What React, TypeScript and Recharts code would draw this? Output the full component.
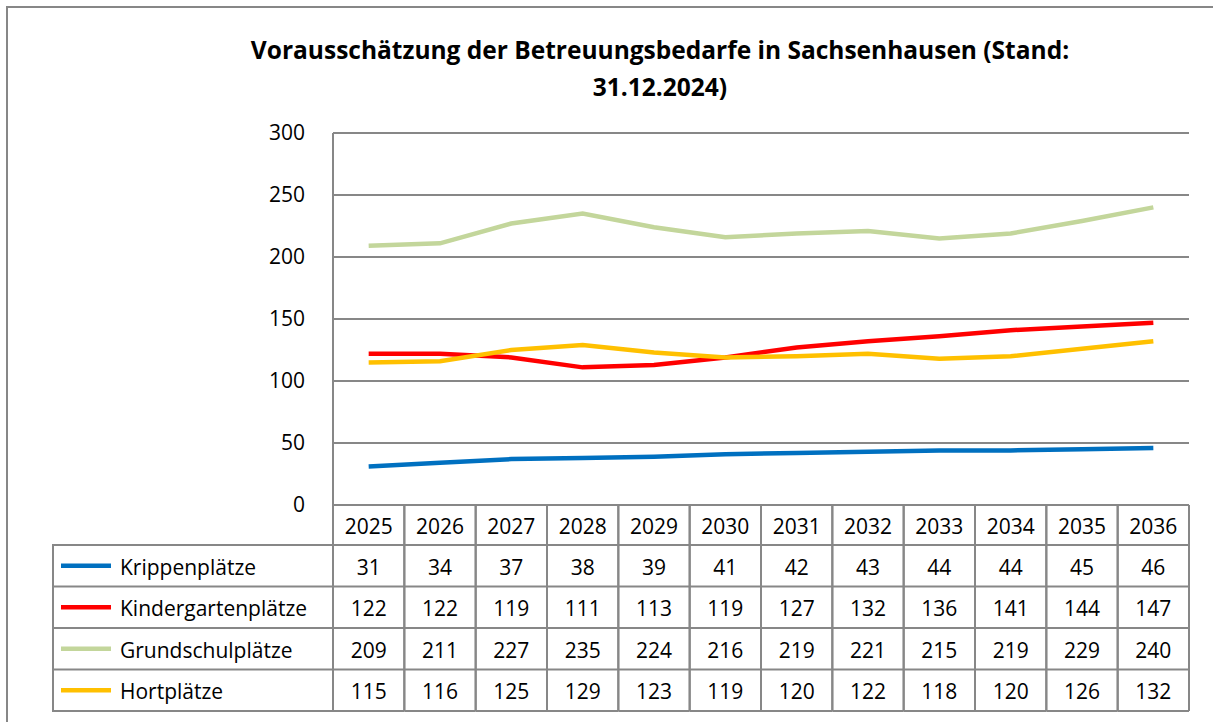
import React from 'react';
import { LineChart, Line, XAxis, YAxis, CartesianGrid } from 'recharts';

const years = ['2025', '2026', '2027', '2028', '2029', '2030', '2031', '2032', '2033', '2034', '2035', '2036'];
const krippenplaetze = [31, 34, 37, 38, 39, 41, 42, 43, 44, 44, 45, 46];
const kindergartenplaetze = [122, 122, 119, 111, 113, 119, 127, 132, 136, 141, 144, 147];
const grundschulplaetze = [209, 211, 227, 235, 224, 216, 219, 221, 215, 219, 229, 240];
const hortplaetze = [115, 116, 125, 129, 123, 119, 120, 122, 118, 120, 126, 132];
const seriesNames = ['Krippenplätze', 'Kindergartenplätze', 'Grundschulplätze', 'Hortplätze'];
const yTicks = [0, 50, 100, 150, 200, 250, 300];
const title1 = 'Vorausschätzung der Betreuungsbedarfe in Sachsenhausen (Stand:';
const title2 = '31.12.2024)';

const seriesValues = [krippenplaetze, kindergartenplaetze, grundschulplaetze, hortplaetze];
const seriesKeys = ['k', 'kg', 'g', 'h'];
const seriesColors = ['#0070C0', '#FF0000', '#C3D69B', '#FFC000'];

const data = years.map((y, i) => {
  const row: any = { year: y };
  seriesKeys.forEach((k, s) => { row[k] = seriesValues[s][i]; });
  return row;
});

const W = 1213;
const H = 722;
const FONT = '"Open Sans", Lato, sans-serif';
const FS = 21;
const GRID = '#878787';
const MARGIN = { top: 133, right: 24, left: 273, bottom: 10 };
const YW = 60;
const XH = 207;
const PLOT_W = W - MARGIN.left - YW - MARGIN.right;
const HEADER_H = 40;
const ROW_H = 41.5;
const LABEL_LEFT = 53;

function TableTick(props: any) {
  const { x, y, index, payload } = props;
  const bw = PLOT_W / years.length;
  const left = x - bw / 2;
  const right = x + bw / 2;
  const bottom = y + HEADER_H + ROW_H * seriesNames.length;
  const els: any[] = [];
  els.push(<line key="vl" x1={left} x2={left} y1={y} y2={bottom} stroke={GRID} strokeWidth={2} />);
  els.push(<line key="vr" x1={right} x2={right} y1={y} y2={bottom} stroke={GRID} strokeWidth={2} />);
  els.push(
    <text key="yr" x={x} y={y + HEADER_H / 2 + 1} textAnchor="middle" dominantBaseline="central" fontSize={FS} fill="#000" fontFamily={FONT}>
      {payload.value}
    </text>
  );
  seriesNames.forEach((name, s) => {
    const top = y + HEADER_H + ROW_H * s;
    els.push(<line key={'h' + s} x1={left} x2={right} y1={top} y2={top} stroke={GRID} strokeWidth={2} />);
    els.push(
      <text key={'v' + s} x={x} y={top + ROW_H / 2 + 1} textAnchor="middle" dominantBaseline="central" fontSize={FS} fill="#000" fontFamily={FONT}>
        {seriesValues[s][index]}
      </text>
    );
    if (index === 0) {
      els.push(<line key={'lh' + s} x1={LABEL_LEFT} x2={left} y1={top} y2={top} stroke={GRID} strokeWidth={2} />);
      els.push(<line key={'ll' + s} x1={LABEL_LEFT + 8} x2={LABEL_LEFT + 58} y1={top + ROW_H / 2} y2={top + ROW_H / 2} stroke={seriesColors[s]} strokeWidth={4.5} />);
      els.push(
        <text key={'ln' + s} x={LABEL_LEFT + 67} y={top + ROW_H / 2 + 1} textAnchor="start" dominantBaseline="central" fontSize={FS} fill="#000" fontFamily={FONT}>
          {name}
        </text>
      );
    }
  });
  els.push(<line key="hb" x1={left} x2={right} y1={bottom} y2={bottom} stroke={GRID} strokeWidth={2} />);
  if (index === 0) {
    els.push(<line key="lb" x1={LABEL_LEFT} x2={left} y1={bottom} y2={bottom} stroke={GRID} strokeWidth={2} />);
    els.push(<line key="lv" x1={LABEL_LEFT} x2={LABEL_LEFT} y1={y + HEADER_H - 1} y2={bottom + 1} stroke={GRID} strokeWidth={2} />);
  }
  return <g>{els}</g>;
}

export default function App() {
  return (
    <div style={{ position: 'absolute', left: 0, top: 0, width: W, height: H, overflow: 'hidden', background: '#fff' }}>
      <style>{'body{margin:0;overflow:hidden;}'}</style>
      <div style={{ position: 'absolute', left: 6, top: 6, width: W + 20, height: H + 20, border: `2px solid ${GRID}`, boxSizing: 'border-box' }} />
      <div
        style={{
          position: 'absolute', left: 110, top: 31, width: 1100, textAlign: 'center',
          fontFamily: FONT, fontWeight: 700, fontSize: 24.5, lineHeight: '37px', color: '#000',
        }}
      >
        <div>{title1}</div>
        <div>{title2}</div>
      </div>
      <div style={{ position: 'absolute', left: 0, top: 0 }}>
        <LineChart width={W} height={H} data={data} margin={MARGIN}>
          <CartesianGrid horizontal={true} vertical={false} stroke={GRID} strokeWidth={2} />
          <XAxis
            dataKey="year"
            scale="band"
            height={XH}
            tickSize={0}
            tickMargin={0}
            tickLine={false}
            axisLine={{ stroke: GRID, strokeWidth: 2 }}
            tick={<TableTick />}
            interval={0}
          />
          <YAxis
            domain={[0, 300]}
            ticks={yTicks}
            width={YW}
            tickSize={0}
            tickMargin={28}
            tickLine={false}
            axisLine={{ stroke: GRID, strokeWidth: 2 }}
            tick={{ fontSize: FS, fill: '#000', fontFamily: FONT }}
            interval={0}
          />
          {seriesKeys.map((k, s) => (
            <Line
              key={k}
              dataKey={k}
              name={seriesNames[s]}
              type="linear"
              stroke={seriesColors[s]}
              strokeWidth={4.5}
              dot={false}
              activeDot={false}
              isAnimationActive={false}
            />
          ))}
        </LineChart>
      </div>
    </div>
  );
}
